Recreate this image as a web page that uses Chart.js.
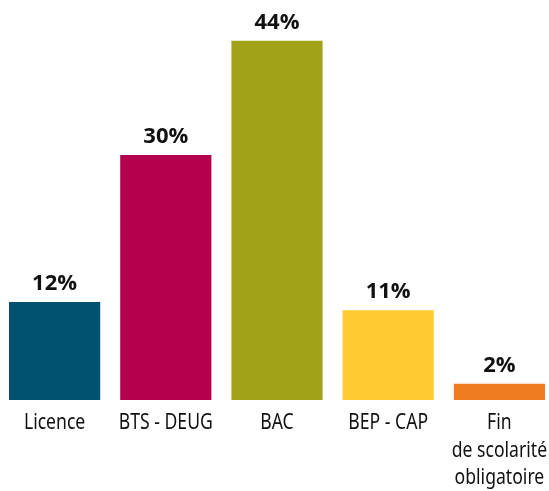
<!DOCTYPE html>
<html>
<head>
<meta charset="utf-8">
<script src="https://cdn.jsdelivr.net/npm/chart.js@4"></script>
<style>
  html, body { margin: 0; padding: 0; background: #fff; overflow: hidden; }
  #diplomes { position: absolute; left: -1px; top: 0; }
</style>
</head>
<body>
<canvas id="diplomes" width="556" height="491"></canvas>
<script>
(function(){
    'use strict';
    // ----- data
    const categories = ['Licence', 'BTS - DEUG', 'BAC', 'BEP - CAP', ['Fin', 'de scolarité', 'obligatoire']];
    const values = [12, 30, 44, 11, 2];
    const barColors = ['#005070', '#b5004e', '#a2a218', '#fdcb2f', '#ee7d22'];

    const labelFont = "'Noto Sans', 'Open Sans', sans-serif";
    const valueFont = "'Open Sans', 'Noto Sans', sans-serif";

    // % above bars + condensed category labels under the axis
    const textPlugin = {
        id: 'textPlugin',
        afterDatasetsDraw(chart){
            const ctx = chart.ctx;
            const meta = chart.getDatasetMeta(0);
            const xs = chart.scales.x;
            const bottom = chart.chartArea.bottom;
            ctx.save();
            ctx.fillStyle = '#111';
            ctx.textAlign = 'center';
            ctx.textBaseline = 'alphabetic';
            ctx.font = "bold 22px " + valueFont;
            meta.data.forEach(function(bar, i){
                ctx.fillText(values[i] + '%', bar.x, bar.y - 12);
            });
            ctx.font = "22px " + labelFont;
            chart.data.labels.forEach(function(lbl, i){
                const lines = Array.isArray(lbl) ? lbl : [lbl];
                const cx = xs.getPixelForValue(i);
                lines.forEach(function(line, j){
                    ctx.save();
                    ctx.translate(cx, bottom + 29 + j * 27.5);
                    ctx.scale(0.8, 1);
                    ctx.fillText(line, 0, 0);
                    ctx.restore();
                });
            });
            ctx.restore();
        }
    };

    new Chart('diplomes', {
        type: 'bar',
        data: {
            labels: categories,
            datasets: [{
                data: values,
                backgroundColor: barColors,
                borderWidth: 0,
                categoryPercentage: 1,
                barPercentage: 0.82
            }]
        },
        options: {
            responsive: false,
            animation: false,
            layout: { autoPadding: false, padding: { top: 0, left: 0, right: 0, bottom: 91 } },
            plugins: {
                legend: { display: false },
                tooltip: { enabled: false }
            },
            scales: {
                y: { display: false, min: 0, max: 49 },
                x: { display: false }
            }
        },
        plugins: [textPlugin]
    });
}());
</script>
</body>
</html>
